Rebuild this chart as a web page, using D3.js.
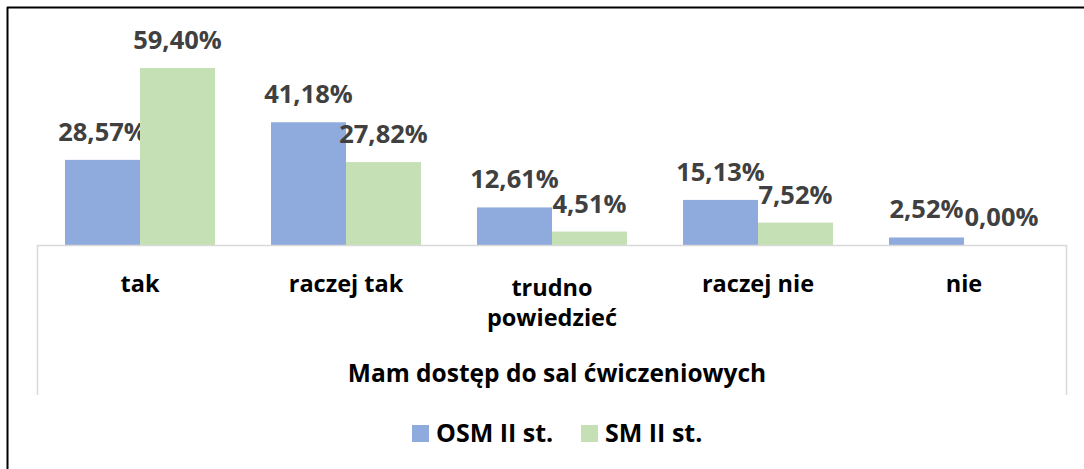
<!DOCTYPE html>
<html>
<head>
<meta charset="utf-8">
<script src="https://cdn.jsdelivr.net/npm/d3@7"></script>
<style>
  body { margin: 0; background: #fff; }
  text { font-family: "Open Sans", sans-serif; font-weight: bold; }
</style>
</head>
<body>
<div id="chart"></div>
<script>
// data
var categories = ['tak', 'raczej tak', 'trudno powiedzieć', 'raczej nie', 'nie']
var categoryLines = [['tak'], ['raczej tak'], ['trudno', 'powiedzieć'], ['raczej nie'], ['nie']]
var seriesNames = ['OSM II st.', 'SM II st.']
var osm = [28.57, 41.18, 12.61, 15.13, 2.52]
var sm = [59.40, 27.82, 4.51, 7.52, 0.00]
var axisTitle = 'Mam dostęp do sal ćwiczeniowych'
var colors = ['#8faadc', '#c5e0b4']

var w = 1084, h = 469
var left = 37, right = 1067, base = 245

var svg = d3.select('#chart').append('svg').attr('width', w).attr('height', h)

// outer frame (only top and left are visible)
svg.append('line').attr('x1', 7).attr('x2', w).attr('y1', 7.5).attr('y2', 7.5).attr('stroke', '#000').attr('stroke-width', 2)
svg.append('line').attr('x1', 7.5).attr('x2', 7.5).attr('y1', 7).attr('y2', h).attr('stroke', '#000').attr('stroke-width', 2)

var x0 = d3.scaleBand().domain(categories).range([left, right]).paddingInner(0).paddingOuter(0)
var x1 = d3.scaleBand().domain([0, 1]).range([28, x0.bandwidth() - 28])
var y = d3.scaleLinear().domain([0, 70]).range([base, base - 70 * 2.98])

var values = [osm, sm]
var g = svg.append('g')
values.forEach(function (vals, s) {
  g.selectAll('rect.s' + s).data(vals).enter().append('rect')
    .attr('x', function (d, i) { return x0(categories[i]) + x1(s) })
    .attr('width', x1.bandwidth())
    .attr('y', function (d) { return y(d) })
    .attr('height', function (d) { return base - y(d) })
    .attr('fill', colors[s])

  g.selectAll('text.s' + s).data(vals).enter().append('text')
    .attr('x', function (d, i) { return x0(categories[i]) + x1(s) + x1.bandwidth() / 2 })
    .attr('y', function (d) { return y(d) - 19 })
    .attr('text-anchor', 'middle')
    .attr('font-size', 25.5)
    .attr('fill', '#404040')
    .text(function (d) { return d.toFixed(2).replace('.', ',') + '%' })
})

// axis lines
var axisColor = '#d9d9d9'
svg.append('line').attr('x1', left).attr('x2', right).attr('y1', base + 0.5).attr('y2', base + 0.5).attr('stroke', axisColor).attr('stroke-width', 1.5)
svg.append('line').attr('x1', left + 0.5).attr('x2', left + 0.5).attr('y1', base).attr('y2', 395).attr('stroke', axisColor).attr('stroke-width', 1.5)
svg.append('line').attr('x1', right - 0.5).attr('x2', right - 0.5).attr('y1', base).attr('y2', 395).attr('stroke', axisColor).attr('stroke-width', 1.5)

// category labels
categoryLines.forEach(function (lines, i) {
  var t = svg.append('text')
    .attr('x', x0(categories[i]) + x0.bandwidth() / 2)
    .attr('y', lines.length > 1 ? 296 : 292)
    .attr('text-anchor', 'middle')
    .attr('font-size', 23.5)
    .attr('fill', '#000')
  lines.forEach(function (l, k) {
    t.append('tspan').attr('x', x0(categories[i]) + x0.bandwidth() / 2).attr('dy', k === 0 ? 0 : 30).text(l)
  })
})

svg.append('text')
  .attr('x', (left + right) / 2 + 5)
  .attr('y', 382)
  .attr('text-anchor', 'middle')
  .attr('font-size', 24.5)
  .attr('fill', '#000')
  .text(axisTitle)

// legend
var legendX = [412, 581]
seriesNames.forEach(function (name, s) {
  svg.append('rect').attr('x', legendX[s]).attr('y', 425).attr('width', 17).attr('height', 17).attr('fill', colors[s])
  svg.append('text').attr('x', legendX[s] + 24).attr('y', 442).attr('font-size', 25).attr('fill', '#000').text(name)
})
</script>
</body>
</html>
